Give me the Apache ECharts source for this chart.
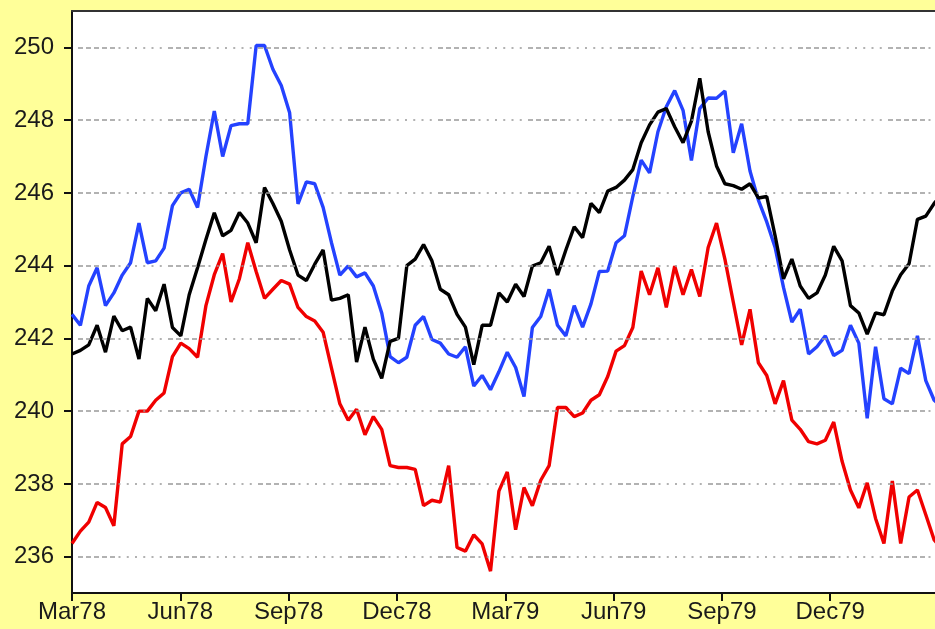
<!DOCTYPE html>
<html>
<head>
<meta charset="utf-8">
<script src="https://cdn.jsdelivr.net/npm/echarts@6/dist/echarts.min.js"></script>
<style>
  html, body { margin: 0; padding: 0; background: #ffff99; }
  #chart { width: 935px; height: 629px; }
</style>
</head>
<body>
<div id="chart"></div>
<script>
// Weekly readings, Mar 1978 onward (x = week number)
const weeksPerQuarter = 12.94;
const quarterLabels = ['Mar78', 'Jun78', 'Sep78', 'Dec78', 'Mar79', 'Jun79', 'Sep79', 'Dec79'];
const yTicks = [236, 238, 240, 242, 244, 246, 248, 250];

const blueSeries = [
  242.66, 242.36, 243.44, 243.94, 242.9, 243.25, 243.74, 244.08, 245.17, 244.08,
  244.13, 244.48, 245.65, 246.0, 246.1, 245.6, 247.0, 248.25, 247.0, 247.85,
  247.9, 247.9, 250.05, 250.05, 249.4, 248.95, 248.2, 245.7, 246.3, 246.25,
  245.6, 244.63, 243.74, 243.99, 243.69, 243.8, 243.44, 242.7, 241.5, 241.33,
  241.48, 242.36, 242.6, 241.97, 241.87, 241.57, 241.48, 241.77, 240.69, 240.98,
  240.59, 241.08, 241.62, 241.2, 240.4, 242.3, 242.6, 243.35, 242.36, 242.07,
  242.9, 242.31, 242.95, 243.84, 243.85, 244.63, 244.82, 245.9, 246.9, 246.55,
  247.68, 248.37, 248.81, 248.27, 246.89, 248.32, 248.61, 248.6, 248.8, 247.1,
  247.9, 246.6, 245.8, 245.2, 244.5, 243.4, 242.45, 242.8, 241.57, 241.77,
  242.07, 241.53, 241.67, 242.36, 241.87, 239.8, 241.77, 240.34, 240.2, 241.18,
  241.03, 242.07, 240.84, 240.3, 240.1
];

const blackSeries = [
  241.57, 241.67, 241.82, 242.36, 241.62, 242.61, 242.21, 242.31, 241.43, 243.1,
  242.76, 243.49, 242.3, 242.07, 243.2, 243.94, 244.72, 245.45, 244.82, 244.97,
  245.46, 245.17, 244.63, 246.15, 245.71, 245.22, 244.43, 243.74, 243.59, 244.04,
  244.43, 243.05, 243.1, 243.2, 241.35, 242.31, 241.43, 240.9, 241.92, 242.0,
  244.0, 244.18, 244.58, 244.13, 243.35, 243.2, 242.66, 242.31, 241.28, 242.36,
  242.36, 243.25, 243.0, 243.49, 243.15, 243.99, 244.08, 244.53, 243.74, 244.43,
  245.07, 244.77, 245.71, 245.46, 246.05, 246.15, 246.35, 246.64, 247.38, 247.87,
  248.22, 248.32, 247.82, 247.38, 247.97, 249.15, 247.68, 246.74, 246.25, 246.2,
  246.1, 246.25, 245.86, 245.9, 244.82, 243.64, 244.18, 243.44, 243.1, 243.25,
  243.74, 244.53, 244.13, 242.9, 242.7, 242.12, 242.7, 242.65, 243.3, 243.75,
  244.05, 245.27, 245.36, 245.71, 246.0
];

const redSeries = [
  236.36, 236.7, 236.95, 237.49, 237.35, 236.85, 239.1, 239.3, 240.0, 240.0,
  240.3, 240.5, 241.5, 241.87, 241.72, 241.48, 242.9, 243.75, 244.33, 243.0,
  243.64, 244.63, 243.84, 243.1, 243.35, 243.59, 243.49, 242.85, 242.6, 242.48,
  242.17, 241.18, 240.2, 239.75, 240.05, 239.35, 239.85, 239.5, 238.5, 238.45,
  238.45, 238.4, 237.4, 237.55, 237.5, 238.5, 236.25, 236.15, 236.6, 236.35,
  235.6, 237.8, 238.33, 236.74, 237.9, 237.4, 238.1, 238.5, 240.1, 240.1,
  239.85, 239.95, 240.3, 240.45, 240.95, 241.65, 241.8, 242.3, 243.85, 243.2,
  243.94, 242.85, 243.99, 243.2, 243.89, 243.15, 244.5, 245.17, 244.18, 243.0,
  241.82, 242.8, 241.33, 240.98, 240.2, 240.84, 239.75, 239.5, 239.16, 239.1,
  239.2, 239.7, 238.62, 237.83, 237.34, 238.03, 237.05, 236.36, 238.08, 236.36,
  237.64, 237.83, 237.15, 236.46, 236.2
];

const toPoints = arr => arr.map((v, i) => [i, v]);
const quarterTicks = quarterLabels.map((_, k) => k * weeksPerQuarter);
// the window shows the plot up to just past week 103
const visibleWeeks = 103.1;

// grey "dash-dash ... dot-dot" rule pattern
const ruleDash = [5, 3, 5, 3, 5, 3, 5, 3, 5, 3.5,
  2, 6.25, 2, 6.25, 2, 6.25, 2, 6.25, 2, 6.25, 2, 6.25];

const labelFont = {
  fontFamily: '"Liberation Sans", Arial, sans-serif',
  fontSize: 24,
  color: '#1a1a1a'
};

const chart = echarts.init(document.getElementById('chart'), null, { renderer: 'canvas' });

chart.setOption({
  animation: false,
  backgroundColor: '#ffff99',
  grid: {
    left: 72,
    top: 11,
    bottom: 36,
    right: 0,
    show: true,
    backgroundColor: '#ffffff',
    borderWidth: 0
  },
  xAxis: [
    {
      type: 'value',
      min: 0,
      max: visibleWeeks,
      axisLine: { show: true, onZero: false, lineStyle: { color: '#111', width: 2 } },
      axisTick: {
        show: true, length: 8, inside: false,
        customValues: quarterTicks,
        lineStyle: { color: '#111', width: 2 }
      },
      axisLabel: Object.assign({
        margin: 7,
        customValues: quarterTicks,
        formatter: v => quarterLabels[Math.round(v / weeksPerQuarter)] || ''
      }, labelFont),
      splitLine: { show: false }
    },
    {
      // top frame line of the plot
      type: 'value',
      position: 'top',
      min: 0,
      max: visibleWeeks,
      axisLine: { show: true, onZero: false, lineStyle: { color: '#333', width: 2 } },
      axisTick: { show: false },
      axisLabel: { show: false },
      splitLine: { show: false }
    }
  ],
  yAxis: {
    type: 'value',
    min: 235,
    max: 251,
    axisLine: { show: true, onZero: false, lineStyle: { color: '#111', width: 2 } },
    axisTick: {
      show: true, length: 8, inside: false,
      customValues: yTicks,
      lineStyle: { color: '#111', width: 2 }
    },
    axisLabel: Object.assign({
      margin: 18,
      customValues: yTicks,
      formatter: v => String(v)
    }, labelFont),
    splitLine: { show: false }
  },
  series: [
    {
      // horizontal reference rules
      type: 'line',
      data: [],
      z: 1,
      silent: true,
      markLine: {
        silent: true,
        symbol: ['none', 'none'],
        label: { show: false },
        animation: false,
        lineStyle: { color: '#999', width: 1.5, type: ruleDash, dashOffset: 84 },
        data: yTicks.map(v => ({ yAxis: v }))
      }
    },
    {
      type: 'line', name: 'blue', data: toPoints(blueSeries), z: 2,
      showSymbol: false, symbol: 'none',
      lineStyle: { color: '#2442ff', width: 3.4 }
    },
    {
      type: 'line', name: 'red', data: toPoints(redSeries), z: 3,
      showSymbol: false, symbol: 'none',
      lineStyle: { color: '#f00000', width: 3.4 }
    },
    {
      type: 'line', name: 'black', data: toPoints(blackSeries), z: 4,
      showSymbol: false, symbol: 'none',
      lineStyle: { color: '#000000', width: 3.4 }
    }
  ]
});
</script>
</body>
</html>
